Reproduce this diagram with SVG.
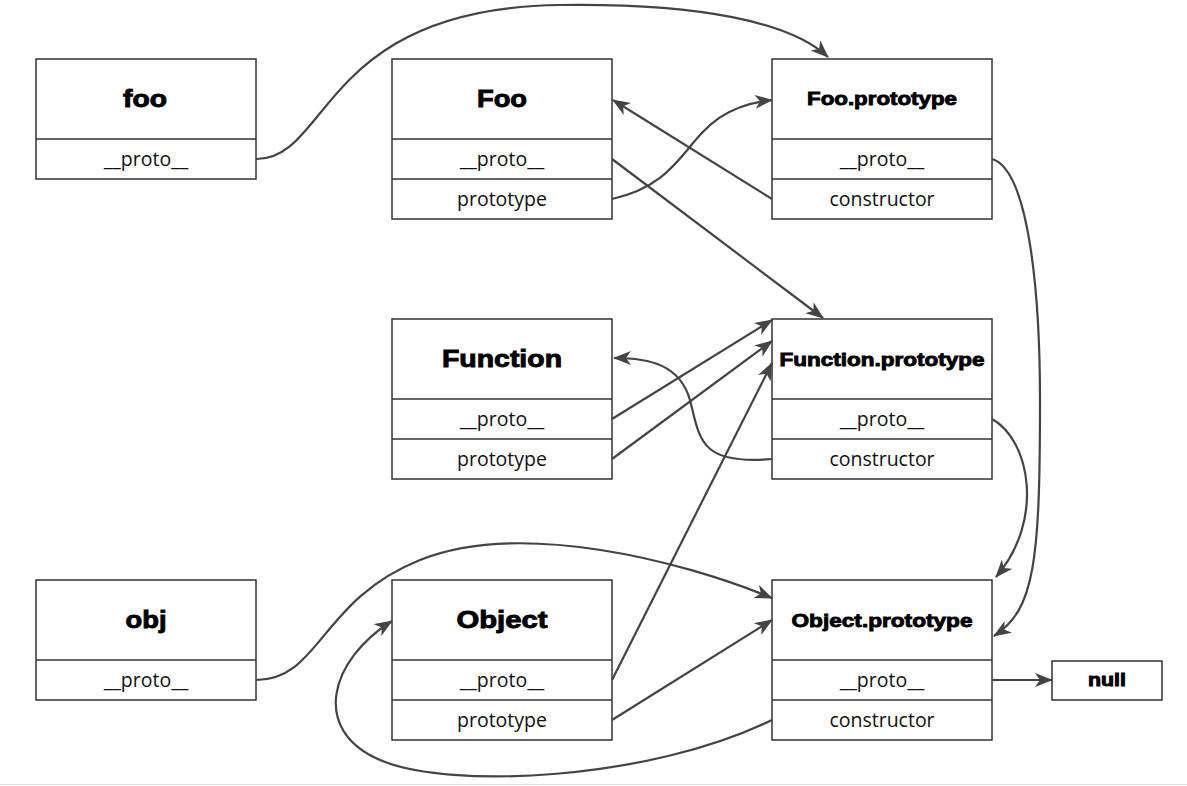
<svg xmlns="http://www.w3.org/2000/svg" width="1187" height="786" viewBox="0 0 1187 786">
<style>
.box{fill:#fff;stroke:#333;stroke-width:1.5}
.div{stroke:#333;stroke-width:1.5}
.t{font-family:"Liberation Sans",Arial,sans-serif;font-weight:900;fill:#000;text-anchor:middle;stroke:#000;stroke-width:0.9}
.r{font-family:"Open Sans","DejaVu Sans",sans-serif;font-size:19.5px;fill:#111;text-anchor:middle}
.c{fill:none;stroke:#444;stroke-width:2.2}
</style>
<defs>
<marker id="a" viewBox="0 0 18 14" refX="17" refY="7" markerWidth="18" markerHeight="14" markerUnits="userSpaceOnUse" orient="auto">
<path d="M0,0 L18,7 L0,14 L5,7 z" fill="#444"/>
</marker>
</defs>
<rect width="1187" height="786" fill="#fff"/>
<line x1="0" y1="784.5" x2="1187" y2="784.5" stroke="#ddd" stroke-width="1"/>
<g id="foo">
<rect class="box" x="36" y="59" width="220" height="120"/>
<line class="div" x1="36" y1="139" x2="256" y2="139"/>
<text class="t" x="145" y="107" font-size="24" textLength="44" lengthAdjust="spacingAndGlyphs">foo</text>
<text class="r" x="146" y="166">__proto__</text>
</g>
<g id="Foo">
<rect class="box" x="392" y="59" width="220" height="160"/>
<line class="div" x1="392" y1="139" x2="612" y2="139"/>
<line class="div" x1="392" y1="179" x2="612" y2="179"/>
<text class="t" x="502" y="107" font-size="24" textLength="50" lengthAdjust="spacingAndGlyphs">Foo</text>
<text class="r" x="502" y="166">__proto__</text>
<text class="r" x="502" y="206">prototype</text>
</g>
<g id="FooPrototype">
<rect class="box" x="772" y="59" width="220" height="160"/>
<line class="div" x1="772" y1="139" x2="992" y2="139"/>
<line class="div" x1="772" y1="179" x2="992" y2="179"/>
<text class="t" x="882" y="105" font-size="19" textLength="150" lengthAdjust="spacingAndGlyphs">Foo.prototype</text>
<text class="r" x="882" y="166">__proto__</text>
<text class="r" x="882" y="206">constructor</text>
</g>
<g id="Function">
<rect class="box" x="392" y="319" width="220" height="160"/>
<line class="div" x1="392" y1="399" x2="612" y2="399"/>
<line class="div" x1="392" y1="439" x2="612" y2="439"/>
<text class="t" x="502" y="367" font-size="24" textLength="120" lengthAdjust="spacingAndGlyphs">Function</text>
<text class="r" x="502" y="426">__proto__</text>
<text class="r" x="502" y="466">prototype</text>
</g>
<g id="FunctionPrototype">
<rect class="box" x="772" y="319" width="220" height="160"/>
<line class="div" x1="772" y1="399" x2="992" y2="399"/>
<line class="div" x1="772" y1="439" x2="992" y2="439"/>
<text class="t" x="882" y="366" font-size="19" textLength="205" lengthAdjust="spacingAndGlyphs">Function.prototype</text>
<text class="r" x="882" y="426">__proto__</text>
<text class="r" x="882" y="466">constructor</text>
</g>
<g id="obj">
<rect class="box" x="36" y="580" width="220" height="120"/>
<line class="div" x1="36" y1="660" x2="256" y2="660"/>
<text class="t" x="146" y="628" font-size="24" textLength="41" lengthAdjust="spacingAndGlyphs">obj</text>
<text class="r" x="146" y="687">__proto__</text>
</g>
<g id="Object">
<rect class="box" x="392" y="580" width="220" height="160"/>
<line class="div" x1="392" y1="660" x2="612" y2="660"/>
<line class="div" x1="392" y1="700" x2="612" y2="700"/>
<text class="t" x="502" y="628" font-size="24" textLength="91" lengthAdjust="spacingAndGlyphs">Object</text>
<text class="r" x="502" y="687">__proto__</text>
<text class="r" x="502" y="727">prototype</text>
</g>
<g id="ObjectPrototype">
<rect class="box" x="772" y="580" width="220" height="160"/>
<line class="div" x1="772" y1="660" x2="992" y2="660"/>
<line class="div" x1="772" y1="700" x2="992" y2="700"/>
<text class="t" x="882" y="627" font-size="19" textLength="181" lengthAdjust="spacingAndGlyphs">Object.prototype</text>
<text class="r" x="882" y="687">__proto__</text>
<text class="r" x="882" y="727">constructor</text>
</g>
<g id="null">
<rect class="box" x="1052" y="661" width="110" height="39"/>
<text class="t" x="1107" y="686" font-size="18" textLength="38" lengthAdjust="spacingAndGlyphs">null</text>
</g>
<g id="connectors">
<path class="c" marker-end="url(#a)" d="M256,159 C330,160 320,8 560,5 C700,3 790,22 828,57"/>
<path class="c" marker-end="url(#a)" d="M612,199 C700,180 680,110 772,100"/>
<path class="c" marker-end="url(#a)" d="M772,199 L613,100"/>
<path class="c" marker-end="url(#a)" d="M612,159 L823,318"/>
<path class="c" marker-end="url(#a)" d="M992,159 C1030,170 1040,300 1040,400 C1040,560 1035,610 994,636"/>
<path class="c" marker-end="url(#a)" d="M612,419 L772,320"/>
<path class="c" marker-end="url(#a)" d="M612,459 L772,341"/>
<path class="c" marker-end="url(#a)" d="M612,680 L772,363"/>
<path class="c" marker-end="url(#a)" d="M772,459 C700,465 700,440 690,400 C680,365 650,358 614,358"/>
<path class="c" marker-end="url(#a)" d="M992,419 C1030,440 1045,520 996,577"/>
<path class="c" marker-end="url(#a)" d="M256,680 C320,680 320,600 420,560 C520,520 680,560 772,598"/>
<path class="c" marker-end="url(#a)" d="M612,720 L772,620"/>
<path class="c" marker-end="url(#a)" d="M772,720 C650,780 450,790 380,760 C310,730 330,660 392,621"/>
<path class="c" marker-end="url(#a)" d="M992,680 L1052,680"/>
</g>
</svg>
